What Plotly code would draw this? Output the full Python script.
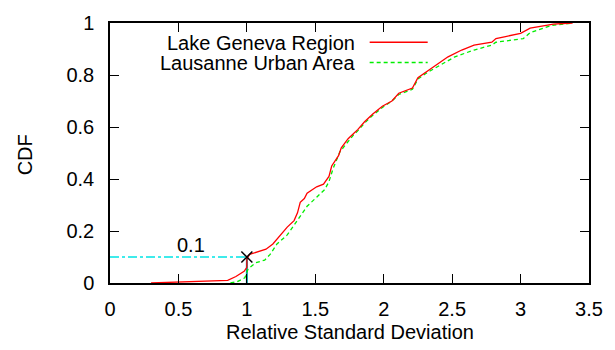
import plotly.graph_objects as go

# Data
lake_x = [0.30, 0.50, 0.86, 0.92, 0.96, 0.98, 1.00, 1.00, 1.02, 1.08, 1.14, 1.19, 1.245, 1.295, 1.345,
          1.37, 1.39, 1.42, 1.44, 1.51, 1.56, 1.60, 1.62, 1.67, 1.69, 1.74, 1.78, 1.81, 1.86, 1.92,
          1.99, 2.06, 2.11, 2.21, 2.25, 2.32, 2.37, 2.47, 2.57, 2.66, 2.79, 2.82, 2.89, 3.00, 3.07,
          3.17, 3.24, 3.38]
lake_y = [0.0, 0.003, 0.01, 0.025, 0.04, 0.045, 0.06, 0.093, 0.11, 0.12, 0.13, 0.15, 0.185, 0.215, 0.24,
          0.27, 0.31, 0.325, 0.345, 0.37, 0.38, 0.41, 0.45, 0.49, 0.52, 0.555, 0.575, 0.59, 0.62, 0.65,
          0.68, 0.70, 0.73, 0.75, 0.79, 0.815, 0.833, 0.87, 0.896, 0.915, 0.926, 0.94, 0.948, 0.96, 0.98,
          0.99, 0.996, 1.0]

laus_x = [0.88, 0.93, 0.985, 1.00, 1.01, 1.065, 1.13, 1.17, 1.22, 1.295, 1.35, 1.40, 1.44, 1.51, 1.57,
          1.60, 1.63, 1.68, 1.74, 1.78, 1.81, 1.86, 1.92, 1.99, 2.06, 2.11, 2.21, 2.25, 2.32, 2.42,
          2.52, 2.66, 2.79, 2.82, 3.02, 3.07, 3.22, 3.38]
laus_y = [0.0, 0.005, 0.02, 0.04, 0.055, 0.078, 0.088, 0.11, 0.15, 0.185, 0.225, 0.265, 0.295, 0.33, 0.36,
          0.39, 0.44, 0.505, 0.545, 0.57, 0.585, 0.615, 0.645, 0.675, 0.70, 0.725, 0.745, 0.785, 0.81, 0.84,
          0.87, 0.896, 0.915, 0.926, 0.94, 0.963, 0.99, 1.0]

mark_x = 1.0
mark_y = 0.1
mark_label = "0.1"
series_names = ["Lake Geneva Region", "Lausanne Urban Area"]
x_ticks = [0, 0.5, 1, 1.5, 2, 2.5, 3, 3.5]
x_tick_text = ["0", "0.5", "1", "1.5", "2", "2.5", "3", "3.5"]
y_ticks = [0, 0.2, 0.4, 0.6, 0.8, 1]
y_tick_text = ["0", "0.2", "0.4", "0.6", "0.8", "1"]

FONT = "Liberation Sans, Arial, sans-serif"
FS = 20

fig = go.Figure()

# reference lines to the marked point
fig.add_trace(go.Scatter(x=[0, mark_x], y=[mark_y, mark_y], mode="lines",
                         line=dict(color="#00e5e5", width=1.3, dash="dashdot"), showlegend=False))
fig.add_trace(go.Scatter(x=[mark_x, mark_x], y=[0, mark_y], mode="lines",
                         line=dict(color="#009aa5", width=2), showlegend=False))

fig.add_trace(go.Scatter(x=laus_x, y=laus_y, mode="lines", name=series_names[1],
                         line=dict(color="#00ee00", width=1.3, dash="4px,3px"), showlegend=False))
fig.add_trace(go.Scatter(x=lake_x, y=lake_y, mode="lines", name=series_names[0],
                         line=dict(color="#ff0000", width=1.3), showlegend=False))

fig.add_trace(go.Scatter(x=[mark_x], y=[mark_y], mode="markers",
                         marker=dict(symbol="x-thin", size=11, line=dict(color="black", width=1.5)),
                         showlegend=False))

fig.add_annotation(x=0.59, y=0.145, text=mark_label, showarrow=False,
                   font=dict(family=FONT, size=FS, color="black"))

# manual gnuplot-style legend (text right-aligned, sample to the right)
W, H = 615, 350
L, R, T, B = 110, 18, 13, 67
pw, ph = W - L - R, H - T - B

def px(xp):
    return (xp - L) / pw

def py(yp):
    return (H - B - yp) / ph

leg = [(series_names[0], 34, dict(color="#ff0000", width=1.3)),
       (series_names[1], 55, dict(color="#00ee00", width=1.3, dash="4px,3px"))]
for name, ypix, ln in leg:
    fig.add_annotation(x=px(361), y=py(ypix), xref="paper", yref="paper", text=name,
                       showarrow=False, xanchor="right", yanchor="middle",
                       font=dict(family=FONT, size=FS, color="black"))
    fig.add_shape(type="line", xref="paper", yref="paper", x0=px(374), x1=px(433),
                  y0=py(ypix - 1), y1=py(ypix - 1), line=ln)

# axis titles
fig.add_annotation(x=px(354), y=py(334), xref="paper", yref="paper", text="Relative Standard Deviation",
                   showarrow=False, xanchor="center", yanchor="middle",
                   font=dict(family=FONT, size=FS, color="black"))
fig.add_annotation(x=px(24), y=py(150), xref="paper", yref="paper", text="CDF", textangle=-90,
                   showarrow=False, xanchor="center", yanchor="middle",
                   font=dict(family=FONT, size=FS, color="black"))

axis_common = dict(showgrid=False, zeroline=False, showline=True, linecolor="black", linewidth=1.5,
                   mirror="ticks", ticks="inside", ticklen=9, tickwidth=1.2, tickcolor="black",
                   tickfont=dict(family=FONT, size=FS, color="black"))

fig.update_xaxes(range=[0, 3.5], tickvals=x_ticks, ticktext=x_tick_text, ticklabelstandoff=7, **axis_common)
fig.update_yaxes(range=[0, 1], tickvals=y_ticks, ticktext=y_tick_text, ticklabelstandoff=10, **axis_common)

fig.update_layout(width=W, height=H, margin=dict(l=L, r=R, t=T, b=B, pad=0),
                  plot_bgcolor="white", paper_bgcolor="white",
                  font=dict(family=FONT, size=FS, color="black"))

fig.write_html("out.html")
